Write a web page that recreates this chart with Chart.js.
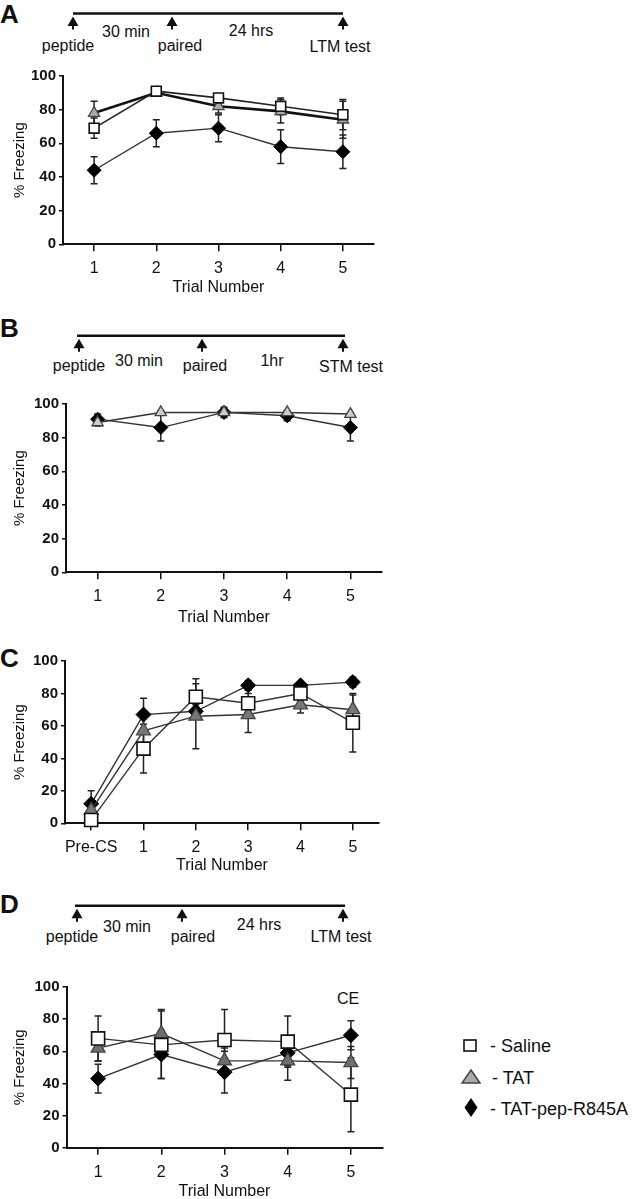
<!DOCTYPE html>
<html>
<head>
<meta charset="utf-8">
<script src="https://cdn.jsdelivr.net/npm/chart.js@4.4.1/dist/chart.umd.min.js"></script>
<style>
body { margin: 0; background: #fff; width: 639px; height: 1199px; position: relative; overflow: hidden; font-family: "Liberation Sans", Arial, sans-serif; }
canvas { position: absolute; left: 0; }
#deco { position: absolute; left: 0; top: 0; }
</style>
</head>
<body>
<svg id="deco" width="639" height="1199" font-family="Liberation Sans, Arial, sans-serif" fill="#111">
  <!-- panel letters -->
  <text x="0" y="23" font-size="26" font-weight="bold">A</text>
  <text x="0" y="337" font-size="26" font-weight="bold">B</text>
  <text x="0" y="667" font-size="26" font-weight="bold">C</text>
  <text x="0" y="913" font-size="26" font-weight="bold">D</text>
  <g id="timelines"></g>
  <!-- legend -->
  <rect x="464" y="1040" width="12" height="11" fill="#fff" stroke="#111" stroke-width="1.6"/>
  <polygon points="471,1070 480,1083 462,1083" fill="#aaa" stroke="#444" stroke-width="1.5"/>
  <polygon points="471,1098 477.5,1107.5 471,1117 464.5,1107.5" fill="#000"/>
  <text x="490" y="1052" font-size="18">- Saline</text>
  <text x="492" y="1084" font-size="18">- TAT</text>
  <text x="490" y="1115" font-size="18">- TAT-pep-R845A</text>
  <text x="337" y="1004" font-size="16">CE</text>
</svg>
<canvas id="chartA"></canvas>
<canvas id="chartB"></canvas>
<canvas id="chartC"></canvas>
<canvas id="chartD"></canvas>
<script>
const trials = ['1', '2', '3', '4', '5'];
const trialsC = ['Pre-CS', '1', '2', '3', '4', '5'];
const yTicks = [0, 20, 40, 60, 80, 100];

// A - LTM test, 24 hrs
const salineA = [69, 91, 87, 82, 77];
const salineAErr = [6, 2, 2, 5, 9];
const tatA = [78, 90, 82, 79, 74];
const tatAErr = [7, 2, 4, 7, 11];
const pepA = [44, 66, 69, 58, 55];
const pepAErr = [8, 8, 8, 10, 10];

// B - STM test, 1 hr
const tatB = [89, 95, 95, 95, 94];
const tatBErr = [2, 1, 2, 1, 1];
const pepB = [91, 86, 95, 93, 86];
const pepBErr = [3, 8, 3, 3, 8];

// C
const salineC = [2, 46, 78, 74, 80, 62];
const salineCErr = [3, 15, 11, 6, 4, 18];
const tatC = [8, 57, 66, 67, 73, 70];
const tatCErr = [4, 8, 20, 11, 5, 9];
const pepC = [12, 67, 69, 85, 85, 87];
const pepCErr = [8, 10, 4, 3, 2, 3];

// D
const salineD = [68, 64, 67, 66, 33];
const salineDErr = [14, 21, 19, 16, 23];
const tatD = [62, 71, 54, 54, 53];
const tatDErr = [8, 15, 8, 12, 10];
const pepD = [43, 58, 47, 59, 70];
const pepDErr = [9, 15, 13, 8, 9];

// timelines (drawn as plain svg, not chart data)
const timelines = [
    {y: 13.5, x1: 73, x2: 343, arrows: [73, 172, 343], labels: [
        ['30 min', 126, 37], ['24 hrs', 251, 36], ['peptide', 68, 50.5], ['paired', 180, 50.5], ['LTM test', 340, 51.5]]},
    {y: 335.7, x1: 77, x2: 345, arrows: [79, 202, 343], labels: [
        ['30 min', 139, 366], ['1hr', 272, 366], ['peptide', 79, 371], ['paired', 205, 371], ['STM test', 351, 372]]},
    {y: 905.7, x1: 75, x2: 345, arrows: [77, 182, 343], labels: [
        ['30 min', 127, 931.5], ['24 hrs', 259, 930], ['peptide', 72, 942], ['paired', 193, 942], ['LTM test', 341, 942]]}
];

const ns = 'http://www.w3.org/2000/svg';
const tlGroup = document.getElementById('timelines');
function svgEl(tag, attrs, text) {
    const el = document.createElementNS(ns, tag);
    for (const k in attrs) el.setAttribute(k, attrs[k]);
    if (text) el.textContent = text;
    tlGroup.appendChild(el);
}
for (const t of timelines) {
    svgEl('line', {x1: t.x1, y1: t.y, x2: t.x2, y2: t.y, stroke: '#111', 'stroke-width': 2.5});
    for (const ax of t.arrows) {
        const tip = t.y + 3;
        svgEl('polygon', {points: `${ax},${tip} ${ax + 5.5},${tip + 9.5} ${ax - 5.5},${tip + 9.5}`, fill: '#111'});
        svgEl('line', {x1: ax, y1: tip + 8, x2: ax, y2: tip + 13, stroke: '#111', 'stroke-width': 2});
    }
    for (const [txt, x, y] of t.labels) {
        svgEl('text', {x: x, y: y, 'font-size': 16, 'text-anchor': 'middle'}, txt);
    }
}

// error bars drawn through the y scale
const errorBars = {
    id: 'errorBars',
    beforeDatasetsDraw(chart) {
        const ctx = chart.ctx;
        const yScale = chart.scales.y;
        chart.data.datasets.forEach((ds, i) => {
            if (!ds.err) return;
            const meta = chart.getDatasetMeta(i);
            ctx.save();
            ctx.strokeStyle = '#222';
            ctx.lineWidth = 1.5;
            meta.data.forEach((pt, j) => {
                const v = ds.data[j], e = ds.err[j];
                const top = yScale.getPixelForValue(v + e);
                const bot = yScale.getPixelForValue(v - e);
                ctx.beginPath();
                ctx.moveTo(pt.x, top); ctx.lineTo(pt.x, bot);
                ctx.moveTo(pt.x - 3.5, top); ctx.lineTo(pt.x + 3.5, top);
                ctx.moveTo(pt.x - 3.5, bot); ctx.lineTo(pt.x + 3.5, bot);
                ctx.stroke();
            });
            ctx.restore();
        });
    }
};

function saline(data, err, r, lw, color) {
    return {label: 'Saline', data: data, err: err, borderColor: color || '#333', borderWidth: lw || 1.4,
        pointStyle: 'rect', pointRadius: r, pointBackgroundColor: '#fff', pointBorderColor: '#111',
        pointBorderWidth: 1.6, clip: false};
}
function tat(data, err, r, fill, lw, color) {
    return {label: 'TAT', data: data, err: err, borderColor: color || '#333', borderWidth: lw || 1.4,
        pointStyle: 'triangle', pointRadius: r, pointBackgroundColor: fill, pointBorderColor: '#444',
        pointBorderWidth: 1.3, clip: false};
}
function pep(data, err, r, lw) {
    return {label: 'TAT-pep-R845A', data: data, err: err, borderColor: '#333', borderWidth: lw || 1.4,
        pointStyle: 'rectRot', pointRadius: r, pointBackgroundColor: '#000', pointBorderColor: '#000',
        pointBorderWidth: 1, clip: false};
}

function makePanel(id, p, labels, datasets) {
    const canvas = document.getElementById(id);
    const W = 400;
    const H = Math.ceil(p.titleY + 10 - p.top);
    canvas.width = W; canvas.height = H;
    canvas.style.width = W + 'px'; canvas.style.height = H + 'px';
    canvas.style.top = p.top + 'px';
    const xHeight = H - (p.b - p.top);
    const titlePadBottom = (p.top + H) - p.titleY - 9.6;
    return new Chart(canvas, {
        type: 'line',
        data: {labels: labels, datasets: datasets},
        options: {
            responsive: false,
            animation: false,
            devicePixelRatio: 1,
            layout: {padding: {top: p.t - p.top, right: W - p.r, left: 0, bottom: 0}},
            plugins: {legend: {display: false}, tooltip: {enabled: false}},
            elements: {line: {tension: 0}},
            scales: {
                x: {
                    offset: true,
                    afterFit: s => { s.height = xHeight; },
                    border: {display: true, color: '#111', width: 2},
                    grid: {display: true, drawOnChartArea: false, drawTicks: true, tickLength: 7, color: '#111', lineWidth: 1.5},
                    ticks: {color: '#111', padding: 8, maxRotation: 0, minRotation: 0, autoSkip: false,
                        font: {family: 'Liberation Sans', size: 16}},
                    title: {display: true, text: 'Trial Number', color: '#111',
                        padding: {top: 0, bottom: titlePadBottom}, font: {family: 'Liberation Sans', size: 16}}
                },
                y: {
                    min: 0, max: 100,
                    afterFit: s => { s.width = p.l; },
                    afterBuildTicks: s => { s.ticks = yTicks.map(v => ({value: v})); },
                    border: {display: true, color: '#111', width: 2},
                    grid: {display: true, drawOnChartArea: false, drawTicks: true, tickLength: 4, color: '#111', lineWidth: 1.5},
                    ticks: {color: '#111', padding: 3, font: {family: 'Liberation Sans', size: 15, weight: 'bold'}},
                    title: {display: true, text: '% Freezing', color: '#111',
                        padding: {top: p.yTitleX - 9, bottom: 0}, font: {family: 'Liberation Sans', size: 15}}
                }
            }
        },
        plugins: [errorBars]
    });
}

makePanel('chartA', {top: 60, l: 63, r: 374, t: 76, b: 244.3, titleY: 288, yTitleX: 20}, trials, [
    saline(salineA, salineAErr, 7, 1.6, '#222'),
    tat(tatA, tatAErr, 6.5, '#aaa', 2.6, '#111'),
    pep(pepA, pepAErr, 7)
]);

makePanel('chartB', {top: 390, l: 66, r: 382, t: 404, b: 572.3, titleY: 618, yTitleX: 20}, trials, [
    tat(tatB, tatBErr, 6.5, '#ccc', 1.5, '#333'),
    pep(pepB, pepBErr, 7)
]);

makePanel('chartC', {top: 645, l: 65, r: 379, t: 661, b: 823.3, titleY: 866, yTitleX: 20}, trialsC, [
    saline(salineC, salineCErr, 9.2),
    tat(tatC, tatCErr, 8, '#777'),
    pep(pepC, pepCErr, 7.5)
]);

makePanel('chartD', {top: 975, l: 66.5, r: 382.5, t: 985, b: 1147.7, titleY: 1191.5, yTitleX: 20}, trials, [
    saline(salineD, salineDErr, 9.2),
    tat(tatD, tatDErr, 8, '#6e6e6e'),
    pep(pepD, pepDErr, 7.5)
]);
</script>
</body>
</html>
